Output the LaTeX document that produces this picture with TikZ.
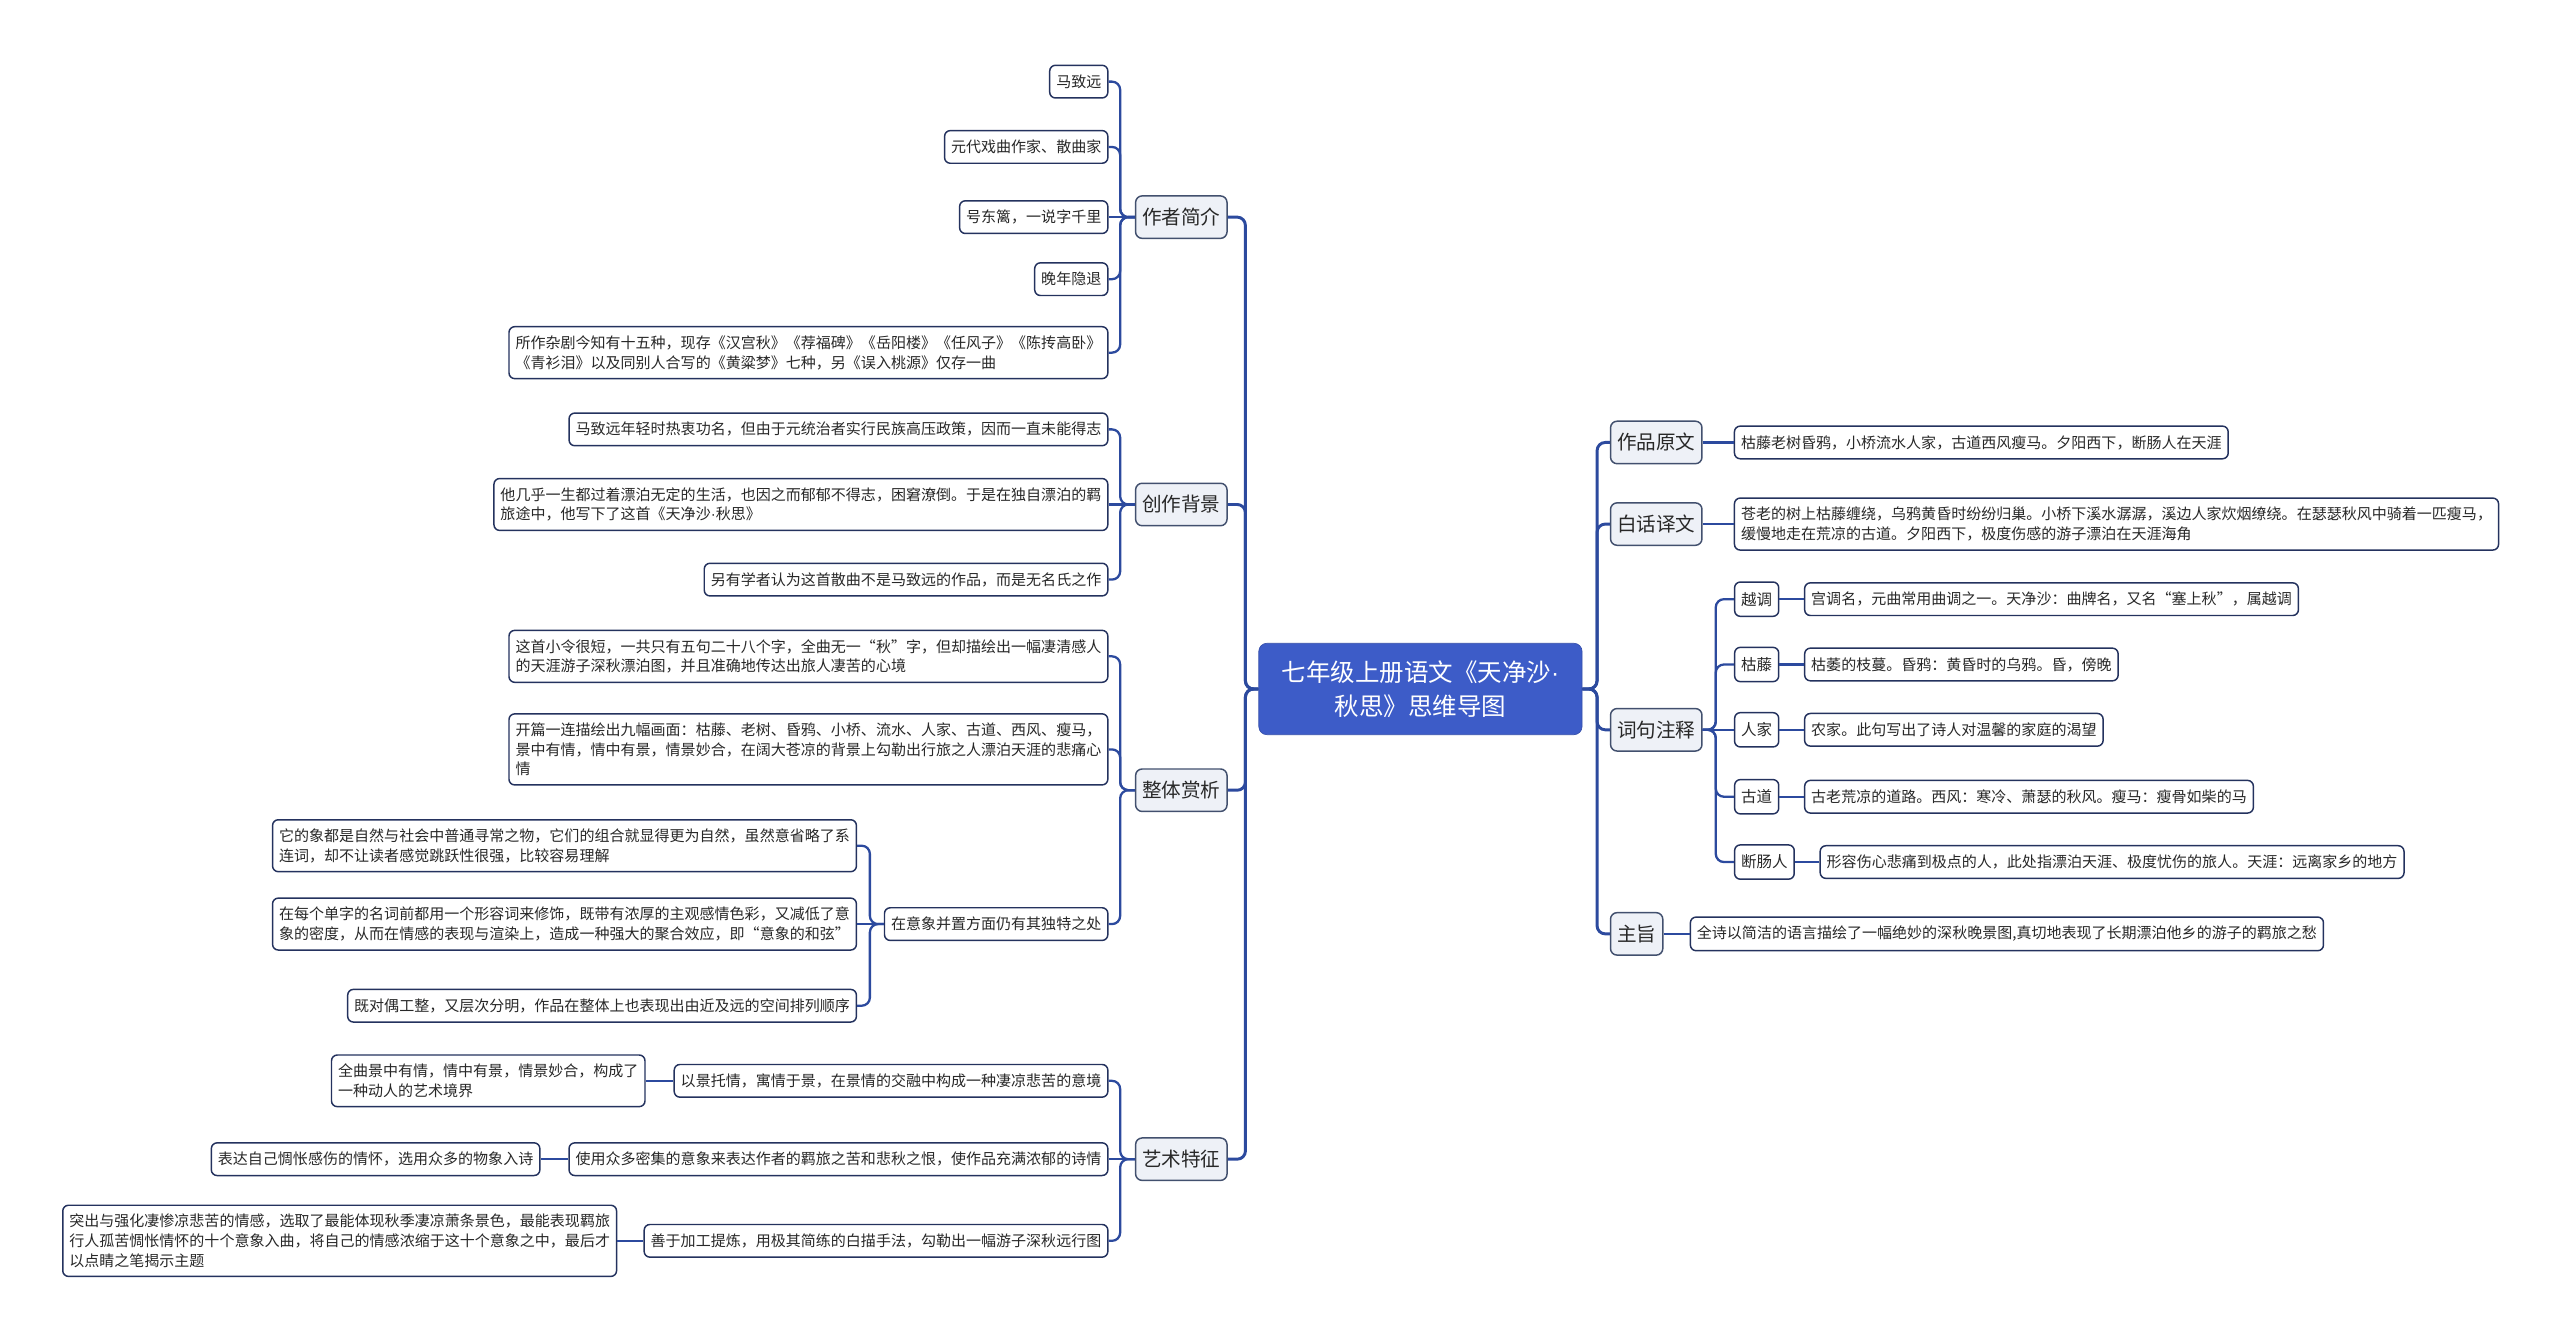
\documentclass[tikz,border=0pt]{standalone}
\usepackage{fontspec}
\setmainfont{Noto Sans CJK SC}
\newfontfamily\dotfont{Liberation Sans}
\usetikzlibrary{positioning}

\definecolor{rootblue}{RGB}{61,92,200}
\definecolor{linkblue}{RGB}{44,74,158}
\definecolor{boxline}{RGB}{36,50,94}
\definecolor{topicfill}{RGB}{238,241,247}
\definecolor{topicline}{RGB}{66,80,110}
\definecolor{inkgray}{RGB}{40,40,40}

\newcommand{\mdot}{{\dotfont ·}}

\tikzset{
  root/.style={fill=rootblue, draw=rootblue!85!black, rounded corners=5pt, text=white,
    align=center, minimum width=198pt, minimum height=56pt, font=\fontsize{15}{21}\selectfont},
  topic/.style={draw=topicline, fill=topicfill, rounded corners=4pt, line width=0.9pt,
    minimum height=26pt, inner xsep=4pt, text=inkgray, font=\fontsize{12}{14}\selectfont},
  leaf/.style={draw=boxline, fill=white, rounded corners=3.5pt, line width=0.9pt,
    inner xsep=4pt, inner ysep=5.5pt, minimum height=20pt, align=left, text=inkgray,
    font=\fontsize{9.2}{12}\selectfont},
  tag/.style={leaf, minimum height=21pt, font=\fontsize{9.5}{12}\selectfont},
  trunk/.style={draw=linkblue, line width=1.8pt, rounded corners=5pt},
  lk/.style={draw=linkblue, line width=1.4pt, rounded corners=5pt}
}

\begin{document}
\begin{tikzpicture}[x=1pt, y=-1pt]
    \useasboundingbox (0,0) rectangle (1568,821);

    % 中心主题
    \node[root] (root) at (870,422) {七年级上册语文《天净沙\mdot\\秋思》思维导图};

    % 左侧分支
    \node[topic, anchor=east] (zuozhe) at (752,133) {作者简介};
    \node[topic, anchor=east] (beijing) at (752,309) {创作背景};
    \node[topic, anchor=east] (shangxi) at (752,484) {整体赏析};
    \node[topic, anchor=east] (yishu) at (752,710) {艺术特征};

    % 右侧分支
    \node[topic, anchor=west] (yuanwen) at (986,271) {作品原文};
    \node[topic, anchor=west] (yiwen) at (986,321) {白话译文};
    \node[topic, anchor=west] (zhushi) at (986,447) {词句注释};
    \node[topic, anchor=west] (zhuzhi) at (986,572) {主旨};

    % 作者简介
    \node[leaf, anchor=east] (zuozhe1) at (679,50) {马致远};
    \node[leaf, anchor=east] (zuozhe2) at (679,90) {元代戏曲作家、散曲家};
    \node[leaf, anchor=east] (zuozhe3) at (679,133) {号东篱，一说字千里};
    \node[leaf, anchor=east] (zuozhe4) at (679,171) {晚年隐退};
    \node[leaf, anchor=east] (zuozhe5) at (679,216) {所作杂剧今知有十五种，现存《汉宫秋》《荐福碑》《岳阳楼》《任风子》《陈抟高卧》\\《青衫泪》以及同别人合写的《黄粱梦》七种，另《误入桃源》仅存一曲};

    % 创作背景
    \node[leaf, anchor=east] (beijing1) at (679,263) {马致远年轻时热衷功名，但由于元统治者实行民族高压政策，因而一直未能得志};
    \node[leaf, anchor=east] (beijing2) at (679,309) {他几乎一生都过着漂泊无定的生活，也因之而郁郁不得志，困窘潦倒。于是在独自漂泊的羁\\旅途中，他写下了这首《天净沙\mdot 秋思》};
    \node[leaf, anchor=east] (beijing3) at (679,355) {另有学者认为这首散曲不是马致远的作品，而是无名氏之作};

    % 整体赏析
    \node[leaf, anchor=east] (shangxi1) at (679,402) {这首小令很短，一共只有五句二十八个字，全曲无一“秋”字，但却描绘出一幅凄清感人\\的天涯游子深秋漂泊图，并且准确地传达出旅人凄苦的心境};
    \node[leaf, anchor=east] (shangxi2) at (679,459) {开篇一连描绘出九幅画面：枯藤、老树、昏鸦、小桥、流水、人家、古道、西风、瘦马，\\景中有情，情中有景，情景妙合，在阔大苍凉的背景上勾勒出行旅之人漂泊天涯的悲痛心\\情};
    \node[leaf, anchor=east] (shangxi3) at (679,566) {在意象并置方面仍有其独特之处};
    \node[leaf, anchor=east] (shangxi3a) at (525,518) {它的象都是自然与社会中普通寻常之物，它们的组合就显得更为自然，虽然意省略了系\\连词，却不让读者感觉跳跃性很强，比较容易理解};
    \node[leaf, anchor=east] (shangxi3b) at (525,566) {在每个单字的名词前都用一个形容词来修饰，既带有浓厚的主观感情色彩，又减低了意\\象的密度，从而在情感的表现与渲染上，造成一种强大的聚合效应，即“意象的和弦”};
    \node[leaf, anchor=east] (shangxi3c) at (525,616) {既对偶工整，又层次分明，作品在整体上也表现出由近及远的空间排列顺序};

    % 艺术特征
    \node[leaf, anchor=east] (yishu1) at (679,662) {以景托情，寓情于景，在景情的交融中构成一种凄凉悲苦的意境};
    \node[leaf, anchor=east] (yishu2) at (679,710) {使用众多密集的意象来表达作者的羁旅之苦和悲秋之恨，使作品充满浓郁的诗情};
    \node[leaf, anchor=east] (yishu3) at (679,760) {善于加工提炼，用极其简练的白描手法，勾勒出一幅游子深秋远行图};
    \node[leaf, left=17pt of yishu1] (yishu1a) {全曲景中有情，情中有景，情景妙合，构成了\\一种动人的艺术境界};
    \node[leaf, left=17pt of yishu2] (yishu2a) {表达自己惆怅感伤的情怀，选用众多的物象入诗};
    \node[leaf, left=16pt of yishu3] (yishu3a) {突出与强化凄惨凉悲苦的情感，选取了最能体现秋季凄凉萧条景色，最能表现羁旅\\行人孤苦惆怅情怀的十个意象入曲，将自己的情感浓缩于这十个意象之中，最后才\\以点睛之笔揭示主题};

    % 作品原文、白话译文、主旨
    \node[leaf, right=19pt of yuanwen] (yuanwen1) {枯藤老树昏鸦，小桥流水人家，古道西风瘦马。夕阳西下，断肠人在天涯};
    \node[leaf, right=19pt of yiwen] (yiwen1) {苍老的树上枯藤缠绕，乌鸦黄昏时纷纷归巢。小桥下溪水潺潺，溪边人家炊烟缭绕。在瑟瑟秋风中骑着一匹瘦马，\\缓慢地走在荒凉的古道。夕阳西下，极度伤感的游子漂泊在天涯海角};
    \node[leaf, right=16pt of zhuzhi] (zhuzhi1) {全诗以简洁的语言描绘了一幅绝妙的深秋晚景图,真切地表现了长期漂泊他乡的游子的羁旅之愁};

    % 词句注释
    \node[tag, anchor=west] (zhushi1) at (1062,367) {越调};
    \node[tag, anchor=west] (zhushi2) at (1062,407) {枯藤};
    \node[tag, anchor=west] (zhushi3) at (1062,447) {人家};
    \node[tag, anchor=west] (zhushi4) at (1062,488) {古道};
    \node[tag, anchor=west] (zhushi5) at (1062,528) {断肠人};
    \node[leaf, right=15pt of zhushi1] (zhushi1a) {宫调名，元曲常用曲调之一。天净沙：曲牌名，又名“塞上秋”，属越调};
    \node[leaf, right=15pt of zhushi2] (zhushi2a) {枯萎的枝蔓。昏鸦：黄昏时的乌鸦。昏，傍晚};
    \node[leaf, right=15pt of zhushi3] (zhushi3a) {农家。此句写出了诗人对温馨的家庭的渴望};
    \node[leaf, right=15pt of zhushi4] (zhushi4a) {古老荒凉的道路。西风：寒冷、萧瑟的秋风。瘦马：瘦骨如柴的马};
    \node[leaf, right=15pt of zhushi5] (zhushi5a) {形容伤心悲痛到极点的人，此处指漂泊天涯、极度忧伤的旅人。天涯：远离家乡的地方};

    % 主干连线
    \foreach \b in {zuozhe,beijing,shangxi,yishu}
        \draw[trunk] (root.west) -- ++(-8,0) |- (\b.east);
    \foreach \b in {yuanwen,yiwen,zhushi,zhuzhi}
        \draw[trunk] (root.east) -- ++(9,0) |- (\b.west);

    % 左侧连线
    \foreach \c in {zuozhe1,zuozhe2,zuozhe4,zuozhe5}
        \draw[lk] (zuozhe.west) -- ++(-9,0) |- (\c.east);
    \draw[lk] (zuozhe.west) -- (zuozhe3.east);
    \foreach \c in {beijing1,beijing3}
        \draw[lk] (beijing.west) -- ++(-9,0) |- (\c.east);
    \draw[lk] (beijing.west) -- (beijing2.east);
    \foreach \c in {shangxi1,shangxi2,shangxi3}
        \draw[lk] (shangxi.west) -- ++(-9,0) |- (\c.east);
    \foreach \c in {shangxi3a,shangxi3c}
        \draw[lk] (shangxi3.west) -- ++(-8.5,0) |- (\c.east);
    \draw[lk] (shangxi3.west) -- (shangxi3b.east);
    \foreach \c in {yishu1,yishu3}
        \draw[lk] (yishu.west) -- ++(-9,0) |- (\c.east);
    \draw[lk] (yishu.west) -- (yishu2.east);
    \draw[lk] (yishu1.west) -- (yishu1a.east);
    \draw[lk] (yishu2.west) -- (yishu2a.east);
    \draw[lk] (yishu3.west) -- (yishu3a.east);

    % 右侧连线
    \draw[lk] (yuanwen.east) -- (yuanwen1.west);
    \draw[lk] (yiwen.east) -- (yiwen1.west);
    \draw[lk] (zhuzhi.east) -- (zhuzhi1.west);
    \foreach \c in {zhushi1,zhushi2,zhushi4,zhushi5}
        \draw[lk] (zhushi.east) -- ++(8,0) |- (\c.west);
    \draw[lk] (zhushi.east) -- (zhushi3.west);
    \foreach \c in {1,...,5}
        \draw[lk] (zhushi\c.east) -- (zhushi\c a.west);
\end{tikzpicture}
\end{document}
